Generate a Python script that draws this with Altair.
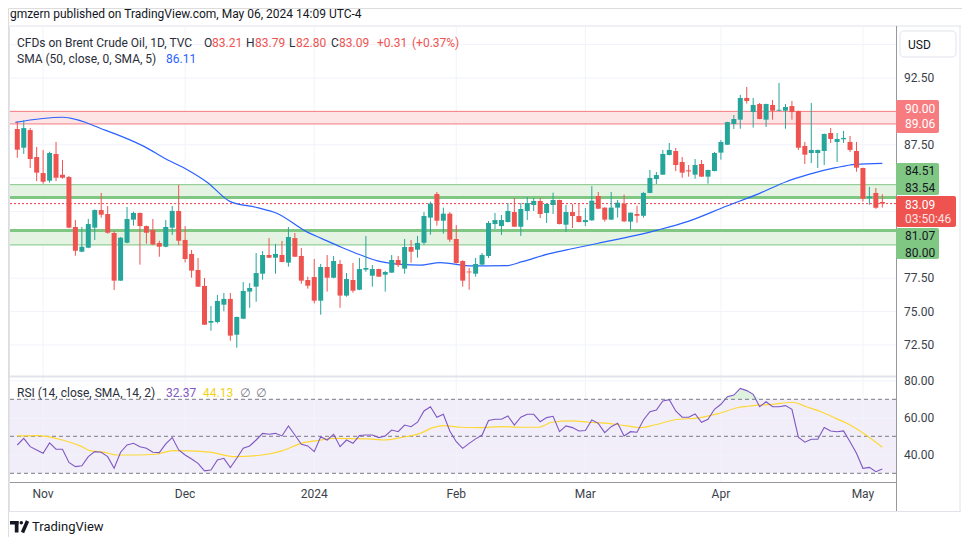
import altair as alt
import pandas as pd
import numpy as np

# ---------------- data ----------------
opens = [88.68, 87.28, 88.60, 86.58, 85.38, 84.81, 86.81, 85.25, 85.08, 81.34,
         79.49, 79.79, 81.29, 82.61, 82.31, 80.89, 77.32, 80.16, 81.89, 82.39,
         81.41, 81.11, 80.14, 79.86, 81.29, 82.54, 80.37, 79.32, 78.12, 76.92,
         74.17, 74.22, 75.52, 75.95, 73.27, 74.47, 76.50, 76.87, 77.84, 79.24,
         79.04, 79.24, 78.67, 80.51, 79.17, 77.37, 77.59, 75.82, 78.34, 77.54,
         78.57, 76.20, 77.37, 76.64, 78.14, 77.69, 78.19, 77.77, 77.92, 78.87,
         78.22, 79.84, 79.64, 80.16, 82.04, 83.81, 81.81, 82.34, 80.44, 78.79,
         78.00, 77.84, 78.52, 79.17, 81.56, 81.41, 81.71, 82.46, 81.36, 82.54,
         82.99, 83.29, 82.39, 82.99, 83.36, 81.51, 82.46, 82.16, 81.71, 81.84,
         83.66, 82.79, 81.89, 82.79, 83.09, 81.74, 82.31, 82.18, 83.89, 84.93,
         85.26, 86.73, 87.03, 86.21, 85.58, 85.26, 86.06, 85.11, 85.53, 86.91,
         87.50, 89.05, 89.38, 91.00, 89.95, 90.55, 89.38, 90.48, 90.05, 90.05,
         90.40, 90.03, 87.41, 86.88, 86.88, 87.03, 88.38, 87.71, 87.91, 87.71,
         87.03, 85.76, 83.51, 83.89, 83.21]
highs = [89.23, 89.35, 88.75, 87.33, 87.10, 86.98, 87.71, 86.36, 85.16, 81.86,
         81.34, 81.94, 82.65, 83.89, 82.91, 81.04, 80.58, 82.84, 82.49, 82.42,
         81.45, 81.94, 80.31, 81.86, 82.91, 84.49, 81.41, 79.62, 79.02, 77.52,
         75.42, 76.25, 76.40, 76.40, 74.62, 77.22, 77.14, 79.39, 79.54, 80.51,
         80.07, 80.29, 81.34, 80.89, 79.77, 77.62, 78.94, 78.57, 79.24, 79.17,
         78.87, 77.89, 78.64, 79.02, 80.67, 78.49, 78.22, 78.04, 79.24, 79.17,
         80.44, 80.37, 80.67, 82.46, 83.24, 83.96, 82.79, 82.46, 81.49, 78.85,
         78.27, 79.02, 79.39, 81.79, 82.39, 82.24, 83.14, 83.51, 83.14, 83.59,
         83.51, 83.51, 83.08, 83.91, 83.38, 82.99, 83.06, 83.06, 82.76, 84.40,
         83.96, 82.81, 83.96, 83.36, 83.76, 82.43, 82.94, 83.95, 85.61, 85.46,
         87.11, 87.63, 87.26, 86.58, 85.98, 86.43, 86.36, 85.63, 86.96, 87.86,
         89.22, 89.73, 91.23, 91.83, 91.00, 90.63, 90.58, 90.85, 92.13, 90.55,
         90.78, 90.06, 87.71, 90.63, 87.13, 88.33, 88.75, 88.38, 88.53, 88.16,
         87.71, 85.78, 84.34, 84.26, 83.79]
lows = [86.53, 86.81, 85.76, 84.78, 84.58, 84.66, 84.78, 84.96, 81.25, 79.19,
        79.45, 79.75, 80.37, 82.04, 80.84, 76.62, 77.30, 80.12, 81.44, 78.52,
        80.09, 79.98, 79.11, 79.82, 80.74, 79.99, 78.69, 77.54, 76.85, 74.00,
        73.57, 74.12, 75.02, 72.82, 72.30, 74.45, 75.29, 75.74, 77.39, 79.02,
        77.84, 78.70, 78.37, 79.09, 77.09, 76.72, 75.62, 74.77, 76.50, 77.50,
        75.29, 76.12, 76.42, 76.60, 77.99, 76.87, 77.60, 76.50, 77.90, 78.34,
        77.84, 78.67, 79.04, 80.01, 80.76, 81.44, 80.84, 80.22, 78.60, 76.87,
        76.64, 77.62, 78.50, 79.02, 81.19, 80.74, 81.69, 81.34, 80.67, 81.86,
        82.54, 82.01, 81.64, 82.31, 81.54, 80.97, 81.26, 81.69, 81.41, 81.80,
        82.68, 81.74, 81.87, 82.04, 81.72, 81.14, 81.66, 82.04, 83.87, 84.56,
        85.24, 86.71, 85.53, 85.03, 85.11, 84.96, 85.09, 84.58, 85.51, 86.38,
        87.48, 88.68, 88.70, 90.58, 88.78, 89.41, 88.83, 89.38, 90.03, 88.70,
        89.38, 87.11, 86.06, 86.13, 85.76, 85.98, 87.63, 86.21, 87.63, 86.96,
        85.48, 83.24, 83.01, 82.70, 82.80]
closes = [87.13, 88.75, 86.43, 85.41, 84.73, 86.88, 85.03, 85.03, 81.29, 79.56,
          79.86, 81.56, 82.61, 82.26, 80.91, 77.32, 80.54, 81.94, 82.39, 81.41,
          80.91, 80.03, 79.86, 81.34, 82.54, 80.31, 78.94, 78.07, 76.87, 74.02,
          74.30, 75.80, 75.95, 73.20, 74.60, 76.55, 76.77, 77.89, 79.24, 79.04,
          79.32, 78.72, 80.59, 79.11, 77.32, 76.94, 75.82, 78.34, 77.54, 78.79,
          76.20, 77.44, 76.57, 78.19, 78.27, 78.19, 77.62, 77.97, 78.87, 78.49,
          79.84, 79.49, 80.14, 82.16, 83.09, 81.81, 82.34, 80.39, 78.64, 77.32,
          77.94, 78.57, 79.24, 81.64, 81.86, 81.86, 82.54, 81.36, 82.69, 83.14,
          83.29, 82.31, 83.06, 83.36, 81.56, 82.46, 82.16, 81.71, 81.86, 83.31,
          82.71, 81.89, 82.79, 83.16, 81.76, 82.41, 82.18, 83.89, 85.01, 85.23,
          86.81, 87.11, 85.98, 85.41, 85.50, 85.98, 85.11, 85.61, 86.88, 87.71,
          89.20, 89.43, 91.00, 90.78, 90.48, 89.43, 90.55, 90.05, 90.12, 90.33,
          89.95, 87.28, 86.76, 87.11, 87.11, 88.31, 87.93, 87.93, 88.01, 87.11,
          85.78, 83.46, 83.61, 82.78, 83.09]

sma_idx = [-0.3, 7.0, 13.6, 19.7, 23.1, 26.4, 29.5, 33.0, 37.2, 40.2, 44.8, 47.1,
           50.2, 53.2, 56.3, 59.4, 62.4, 65.5, 70.5, 75.8, 78.2, 82.3, 85.9, 90.0,
           99.2, 103.8, 109.9, 115.0, 119.1, 122.6, 126.8, 129.8, 134.0]
sma_val = [89.18, 89.56, 88.60, 87.36, 86.41, 85.61, 84.66, 83.24, 82.79, 82.37,
           80.99, 80.49, 79.82, 79.24, 78.74, 78.54, 78.49, 78.67, 78.42, 78.44,
           78.74, 79.32, 79.71, 80.12, 81.11, 81.74, 82.91, 83.86, 84.73, 85.28,
           85.78, 86.03, 86.11]

rsi_vals = [45.3, 48.9, 44.4, 42.6, 40.8, 46.4, 43.0, 43.0, 35.9, 33.6,
            34.1, 39.0, 41.7, 41.4, 39.0, 32.7, 41.4, 45.3, 46.2, 44.4,
            43.5, 41.4, 41.2, 45.9, 49.3, 42.6, 39.9, 37.7, 35.4, 31.3,
            31.8, 37.2, 38.1, 33.1, 38.1, 43.5, 44.8, 48.0, 51.6, 51.1,
            51.6, 50.2, 55.6, 50.7, 45.7, 44.8, 41.7, 49.8, 48.0, 51.1,
            44.4, 48.0, 46.2, 50.4, 50.7, 50.7, 49.3, 50.2, 53.4, 52.5,
            56.1, 55.2, 57.6, 63.7, 66.0, 60.3, 61.9, 52.9, 47.1, 43.5,
            46.2, 48.6, 50.7, 58.5, 59.2, 59.2, 61.0, 56.1, 60.3, 61.9,
            61.9, 57.9, 60.1, 60.8, 52.5, 55.6, 54.7, 52.9, 53.1, 58.8,
            57.0, 52.0, 55.2, 57.0, 50.2, 52.5, 52.2, 58.8, 63.3, 64.2,
            69.1, 69.8, 63.7, 60.3, 60.3, 62.1, 57.6, 59.2, 64.6, 67.3,
            71.4, 72.3, 75.9, 74.7, 72.7, 66.0, 68.7, 66.0, 66.0, 66.6,
            64.6, 49.5, 46.8, 48.4, 48.4, 54.7, 52.9, 52.5, 52.9, 47.1,
            40.8, 32.7, 33.2, 30.9, 32.37]

rsi_sma_idx = [0, 3, 7, 10, 11.4, 13.4, 15.4, 18.5, 21.5, 24.1, 26.7, 29.8, 33.8,
               37.9, 41, 44, 46.6, 49.1, 54.3, 56.8, 59.4, 62.4, 64.4, 66, 68.5,
               71.6, 75.1, 77.7, 80.8, 82.8, 85.9, 88.5, 91.5, 94.1, 96.6, 98.7,
               101.7, 105.8, 108.4, 111.9, 114, 117.1, 120.1, 122.2, 124.7, 126.8,
               128.8, 131.3, 134]
rsi_sma_val = [50.2, 50.4, 48.0, 44.4, 42.1, 41.4, 39.9, 39.9, 40.3, 42.3, 42.1, 41.4,
               39.0, 39.9, 42.1, 46.2, 47.7, 48.9, 48.6, 48.0, 49.3, 51.6, 54.7, 55.8,
               54.9, 54.7, 55.2, 54.9, 54.9, 57.6, 58.3, 57.6, 57.0, 55.8, 54.7, 56.1,
               58.8, 60.1, 62.1, 65.7, 66.6, 67.3, 68.4, 66.0, 63.0, 59.7, 56.5, 51.1,
               44.13]

price_ticks = [72.5, 75.0, 77.5, 80.0, 82.5, 85.0, 87.5, 90.0, 92.5, 95.0]
price_label_ticks = [72.5, 75.0, 77.5, 87.5, 92.5]   # the others are covered by badges
rsi_ticks = [40, 60, 80]
rsi_levels = [30, 50, 70]
month_labels = ["Nov", "Dec", "2024", "Feb", "Mar", "Apr", "May"]
month_pos = [4, 26, 46, 68, 88, 109, 131]

red_zone = [89.06, 90.00]
green_zone_hi = [83.54, 84.51]
green_zone_lo = [80.00, 81.07]
last_close = 83.09

# ---------------- layout helpers (page px -> chart px) ----------------
FONT = "Roboto"
GREEN = "#26a69a"
RED = "#ef5350"
TXT = "#131722"
OFF = 8

X = alt.Scale(domain=[0, 134], range=[12.3 - OFF, 887.3 - OFF], nice=False, zero=False)
P = alt.Scale(domain=[72.5, 92.5], range=[345 - OFF, 78 - OFF], nice=False, zero=False)
R = alt.Scale(domain=[30, 70], range=[473.3 - OFF, 399.3 - OFF], nice=False, zero=False)

PL, PR = 10 - OFF, 896 - OFF   # plot left/right in chart px

one = pd.DataFrame({"a": [0]})


def text_at(s, x, y, color=TXT, size=12, align="left", weight="normal", font=FONT):
    return alt.Chart(pd.DataFrame({"t": [s]})).mark_text(
        align=align, baseline="middle", fontSize=size, font=font, color=color,
        fontWeight=weight).encode(x=alt.value(x - OFF), y=alt.value(y - OFF), text="t:N")


def rect_px(x1, x2, y1, y2, **kw):
    return alt.Chart(one).mark_rect(**kw).encode(
        x=alt.value(x1 - OFF), x2=alt.value(x2 - OFF), y=alt.value(y1 - OFF), y2=alt.value(y2 - OFF))


def rule_px(x1, x2, y1, y2, **kw):
    return alt.Chart(one).mark_rule(**kw).encode(
        x=alt.value(x1 - OFF), x2=alt.value(x2 - OFF), y=alt.value(y1 - OFF), y2=alt.value(y2 - OFF))


layers = []

# frame
layers.append(rule_px(8, 961, 26, 26, color="#e0e3eb", strokeWidth=1))
layers.append(rule_px(960, 960, 26, 512, color="#e0e3eb", strokeWidth=1))
layers.append(rule_px(9.5, 9.5, 26, 512, color="#e0e3eb", strokeWidth=1))
layers.append(rule_px(8, 961, 511.5, 511.5, color="#e0e3eb", strokeWidth=1))

# RSI background band
rsi_band = pd.DataFrame({"a": [rsi_levels[0]], "b": [rsi_levels[2]]})
layers.append(alt.Chart(rsi_band).mark_rect(color="#7e57c2", opacity=0.1).encode(
    x=alt.value(PL), x2=alt.value(PR),
    y=alt.Y("a:Q", scale=R, axis=None), y2="b:Q"))

# grid lines
pt = pd.DataFrame({"v": price_ticks})
layers.append(alt.Chart(pt).mark_rule(color="#f0f3fa", strokeWidth=1).encode(
    x=alt.value(PL), x2=alt.value(PR), y=alt.Y("v:Q", scale=P, axis=None)))
rt = pd.DataFrame({"v": rsi_ticks})
layers.append(alt.Chart(rt).mark_rule(color="#f0f3fa", strokeWidth=1).encode(
    x=alt.value(PL), x2=alt.value(PR), y=alt.Y("v:Q", scale=R, axis=None)))
mdf = pd.DataFrame({"pos": month_pos, "lab": month_labels})
layers.append(alt.Chart(mdf).mark_rule(color="#f0f3fa", strokeWidth=1).encode(
    x=alt.X("pos:Q", scale=X, axis=None), y=alt.value(27 - OFF), y2=alt.value(482 - OFF)))


# zones
def zone(lo, hi, fill, line, thick_lo=1, thick_hi=1):
    d = pd.DataFrame({"lo": [lo], "hi": [hi]})
    out = [alt.Chart(d).mark_rect(color=fill).encode(
        x=alt.value(PL), x2=alt.value(PR), y=alt.Y("lo:Q", scale=P, axis=None), y2="hi:Q")]
    out.append(alt.Chart(d).mark_rule(color=line, strokeWidth=thick_lo).encode(
        x=alt.value(PL), x2=alt.value(PR), y=alt.Y("lo:Q", scale=P, axis=None)))
    out.append(alt.Chart(d).mark_rule(color=line, strokeWidth=thick_hi).encode(
        x=alt.value(PL), x2=alt.value(PR), y=alt.Y("hi:Q", scale=P, axis=None)))
    return out


layers += zone(red_zone[0], red_zone[1], "#fde4e5", "#f77c80")
layers += zone(green_zone_hi[0], green_zone_hi[1], "#e5f3e3", "#81c784", thick_lo=3)
layers += zone(green_zone_lo[0], green_zone_lo[1], "#e5f3e3", "#81c784", thick_hi=3)

# last price dotted line
layers.append(alt.Chart(pd.DataFrame({"v": [last_close]})).mark_rule(
    color="#f23645", strokeWidth=1, strokeDash=[2, 2]).encode(
    x=alt.value(PL), x2=alt.value(PR), y=alt.Y("v:Q", scale=P, axis=None)))

# SMA line
sdf = pd.DataFrame({"i": sma_idx, "v": sma_val})
layers.append(alt.Chart(sdf).mark_line(color="#2962ff", strokeWidth=1.2, interpolate="monotone").encode(
    x=alt.X("i:Q", scale=X, axis=None), y=alt.Y("v:Q", scale=P, axis=None)))

# candles
cdf = pd.DataFrame({"i": np.arange(len(opens)), "o": opens, "h": highs, "l": lows, "c": closes})
cdf["dir"] = np.where(cdf["c"] >= cdf["o"], "up", "down")
cscale = alt.Scale(domain=["up", "down"], range=[GREEN, RED])
layers.append(alt.Chart(cdf).mark_rule(strokeWidth=1).encode(
    x=alt.X("i:Q", scale=X, axis=None), y=alt.Y("l:Q", scale=P, axis=None), y2="h:Q",
    color=alt.Color("dir:N", scale=cscale, legend=None)))
layers.append(alt.Chart(cdf).mark_bar(size=5).encode(
    x=alt.X("i:Q", scale=X, axis=None), y=alt.Y("o:Q", scale=P, axis=None), y2="c:Q",
    color=alt.Color("dir:N", scale=cscale, legend=None)))

# RSI pane
lv = pd.DataFrame({"v": rsi_levels})
layers.append(alt.Chart(lv).mark_rule(color="#787b86", strokeWidth=1, strokeDash=[4, 3]).encode(
    x=alt.value(PL), x2=alt.value(PR), y=alt.Y("v:Q", scale=R, axis=None)))
rdf = pd.DataFrame({"i": np.arange(len(rsi_vals)), "v": rsi_vals})
layers.append(alt.Chart(rdf).transform_calculate(top="max(datum.v, 70)", base="70").mark_area(
    color="#4caf50", opacity=0.18).encode(
    x=alt.X("i:Q", scale=X, axis=None), y=alt.Y("top:Q", scale=R, axis=None), y2="base:Q"))
rsdf = pd.DataFrame({"i": rsi_sma_idx, "v": rsi_sma_val})
layers.append(alt.Chart(rsdf).mark_line(color="#fdd835", strokeWidth=1.2, interpolate="monotone").encode(
    x=alt.X("i:Q", scale=X, axis=None), y=alt.Y("v:Q", scale=R, axis=None)))
layers.append(alt.Chart(rdf).mark_line(color="#7e57c2", strokeWidth=1.1).encode(
    x=alt.X("i:Q", scale=X, axis=None), y=alt.Y("v:Q", scale=R, axis=None)))

# separators
layers.append(rule_px(10, 896, 376.5, 376.5, color="#e0e3eb", strokeWidth=2))
layers.append(rule_px(10, 896, 482.5, 482.5, color="#9598a1", strokeWidth=1))
layers.append(rule_px(896.5, 896.5, 26, 511, color="#9598a1", strokeWidth=1))

# price axis labels (only those not hidden behind badges)
plt_df = pd.DataFrame({"v": price_label_ticks})
layers.append(alt.Chart(plt_df).mark_text(align="left", baseline="middle", fontSize=12, font=FONT,
                                          color="#3b3f4a").encode(
    x=alt.value(904 - OFF), y=alt.Y("v:Q", scale=P, axis=None), text=alt.Text("v:Q", format=".2f")))
layers.append(alt.Chart(rt).mark_text(align="left", baseline="middle", fontSize=12, font=FONT,
                                      color="#3b3f4a").encode(
    x=alt.value(904 - OFF), y=alt.Y("v:Q", scale=R, axis=None), text=alt.Text("v:Q", format=".2f")))

# time axis labels
layers.append(alt.Chart(mdf).mark_text(align="center", baseline="middle", fontSize=12, font=FONT,
                                       color="#3b3f4a").encode(
    x=alt.X("pos:Q", scale=X, axis=None), y=alt.value(494 - OFF), text="lab:N"))

# price badges
layers.append(rect_px(896, 939, 100, 133, color="#f77c80", cornerRadius=2))
layers.append(text_at("90.00", 905, 108.5, color="white"))
layers.append(text_at("89.06", 905, 124, color="white"))
layers.append(rect_px(896, 939, 163, 195, color="#81c784", cornerRadius=2))
layers.append(text_at("84.51", 905, 170.5))
layers.append(text_at("83.54", 905, 187.5))
layers.append(rect_px(896, 956, 196, 227, color="#ef5350", cornerRadius=2))
layers.append(text_at("83.09", 905, 205, color="white"))
layers.append(text_at("03:50:46", 905, 218.5, color="#fde3e3"))
layers.append(rect_px(896, 939, 228, 259, color="#81c784", cornerRadius=2))
layers.append(text_at("81.07", 905, 236))
layers.append(text_at("80.00", 905, 252.5))

# USD box
layers.append(rect_px(900, 956, 31, 57, fill="white", stroke="#e0e3eb", strokeWidth=1, cornerRadius=4))
layers.append(text_at("USD", 908, 44.5))

# header / legends
layers.append(text_at("gmzern published on TradingView.com, May 06, 2024 14:09 UTC-4", 10, 14, size=12))
layers.append(text_at("CFDs on Brent Crude Oil, 1D, TVC", 17, 42.5, color="#2a2e39"))
for s, x, c in [("O", 204, "#2a2e39"), ("83.21", 212, RED), ("H", 246, "#2a2e39"), ("83.79", 255, RED),
                ("L", 289, "#2a2e39"), ("82.80", 296, RED), ("C", 331, "#2a2e39"), ("83.09", 339, RED),
                ("+0.31", 377, RED), ("(+0.37%)", 412, RED)]:
    layers.append(text_at(s, x, 42.5, color=c))
layers.append(text_at("SMA (50, close, 0, SMA, 5)", 17, 59, color="#2a2e39"))
layers.append(text_at("86.11", 166, 59, color="#2962ff"))
layers.append(text_at("RSI (14, close, SMA, 14, 2)", 17, 392.5, color="#2a2e39"))
layers.append(text_at("32.37", 166, 392.5, color="#7e57c2"))
layers.append(text_at("44.13", 203, 392.5, color="#f2d21b"))
layers.append(text_at("\u2205", 240, 392.5, color="#787b86", font="DejaVu Sans"))
layers.append(text_at("\u2205", 256, 392.5, color="#787b86", font="DejaVu Sans"))

# footer logo + name
layers.append(rect_px(10, 18.5, 521, 524.5, color=TXT))
layers.append(rect_px(14.8, 18.5, 521, 532.5, color=TXT))
layers.append(alt.Chart(one).mark_point(filled=True, size=12, color=TXT, opacity=1).encode(
    x=alt.value(21.3 - OFF), y=alt.value(522.8 - OFF)))
layers.append(rule_px(22.5, 27.5, 532.5, 521, color=TXT, strokeWidth=3.5))
layers.append(text_at("TradingView", 32, 527, size=13))

chart = alt.layer(*layers).resolve_scale(y="independent").properties(
    width=954, height=529, padding=0, autosize=alt.AutoSizeParams(type="none")
).configure_view(stroke=None).configure(background="white")

chart.save("out.html", embed_options={"renderer": "svg", "actions": False})
